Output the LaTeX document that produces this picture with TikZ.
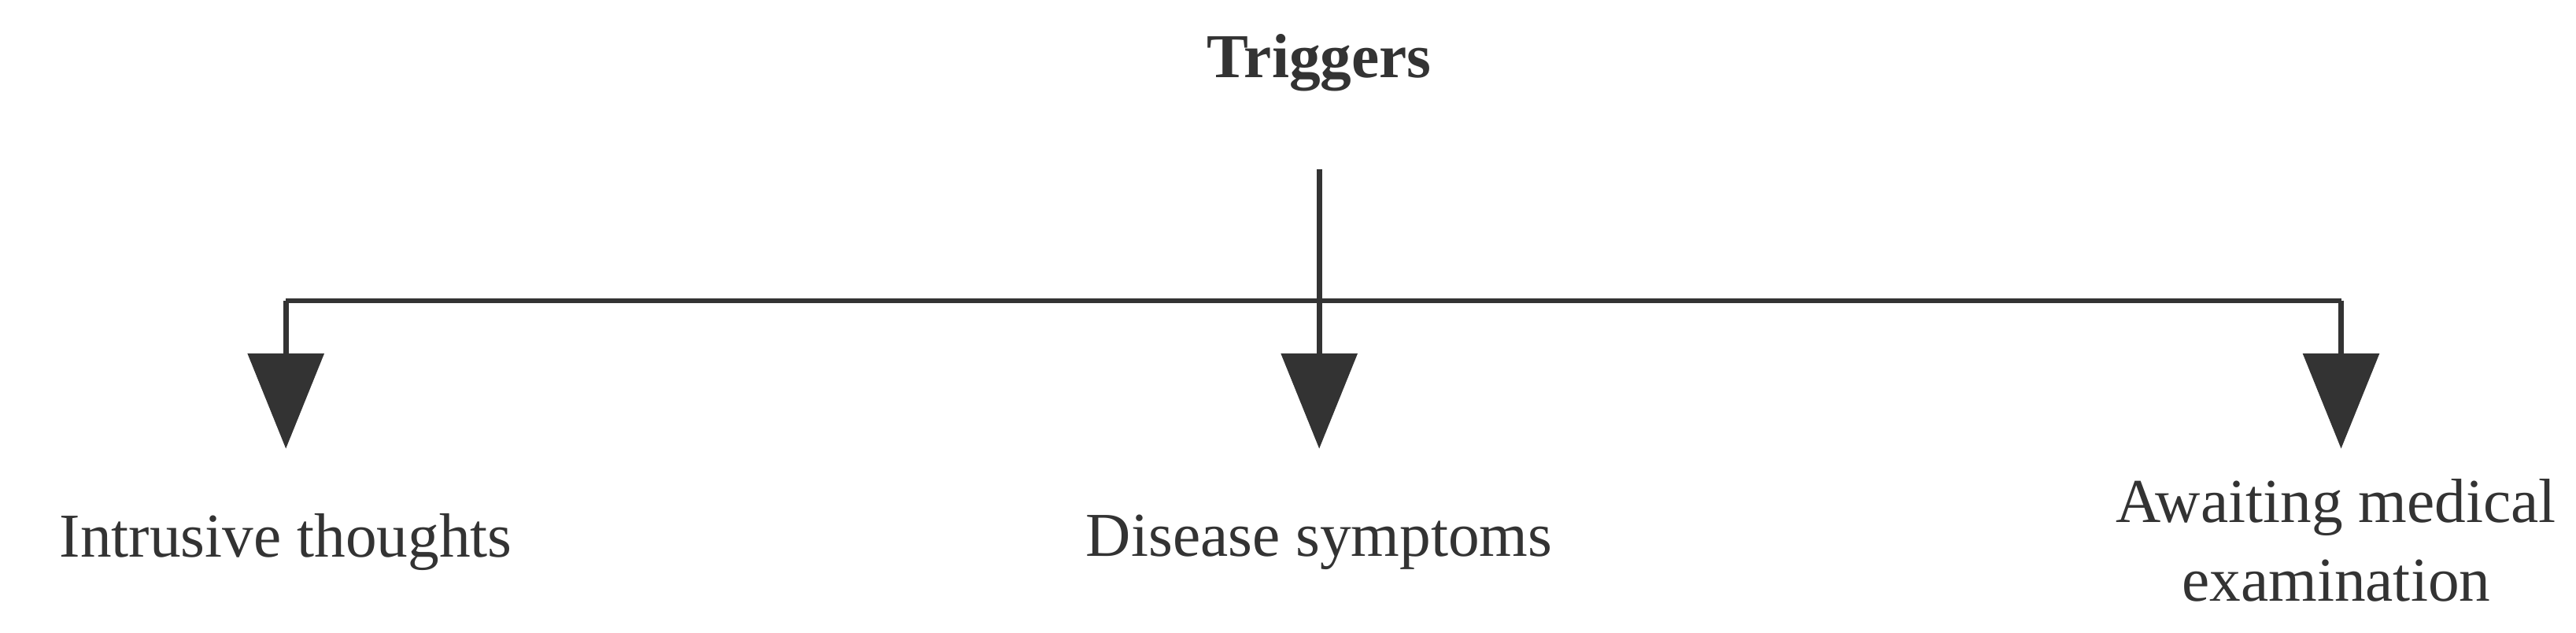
\documentclass[tikz,border=0pt]{standalone}
\usepackage{fontspec}
\setmainfont{Liberation Serif}
\usetikzlibrary{arrows.meta}
\definecolor{ln}{HTML}{333333}
\begin{document}
\begin{tikzpicture}[x=0.5pt,y=-0.5pt,
  lbl/.style={font=\fontsize{19}{22}\selectfont, text=ln, align=center, inner sep=0pt},
  con/.style={draw=ln, line width=1.6pt},
  arr/.style={con, -{Triangle[width=23pt,length=29pt]}}]
\useasboundingbox (0,0) rectangle (1568,385);
\node[lbl,font=\fontsize{19}{22}\selectfont\bfseries] (trig) at (803,38) {Triggers};
\coordinate (top) at (803,103);
\coordinate (hl) at (174,183);
\coordinate (hr) at (1425,183);
\coordinate (a1) at (174,273);
\coordinate (a2) at (803,273);
\coordinate (a3) at (1425,273);
\node[lbl] (n1) at (174,330) {Intrusive thoughts};
\node[lbl] (n2) at (803,330) {Disease symptoms};
\node[lbl,font=\fontsize{19}{24}\selectfont] (n3) at (1422,329) {Awaiting medical\\examination};
\draw[con] (hl) -- (hr);
\draw[arr] (top) -- (a2);
\draw[arr] (hl) -- (a1);
\draw[arr] (hr) -- (a3);
\end{tikzpicture}
\end{document}
